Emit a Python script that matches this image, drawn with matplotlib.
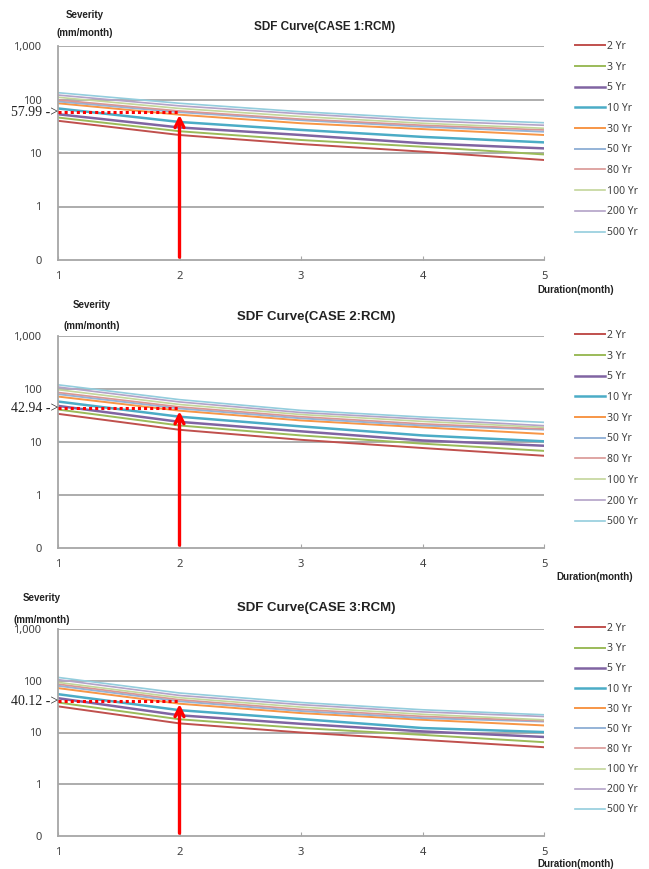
import matplotlib
matplotlib.use("Agg")
import matplotlib.pyplot as plt
from matplotlib.transforms import blended_transform_factory

plt.rcParams['font.family'] = ['Noto Sans', 'DejaVu Sans']

# durations (month)
durations = [1, 2, 3, 4, 5]
periods = ["2 Yr", "3 Yr", "5 Yr", "10 Yr", "30 Yr", "50 Yr", "80 Yr", "100 Yr", "200 Yr", "500 Yr"]
colors = ["#C0504D", "#9BBB59", "#8064A2", "#4BACC6", "#F79646",
          "#95B3D7", "#D99694", "#C3D69B", "#B3A2C7", "#93CDDD"]
widths = [1.4, 1.4, 1.8, 1.8, 1.4, 1.4, 1.2, 1.2, 1.2, 1.2]

# severity (mm/month), one row per return period
case1 = [
    [40, 21.7, 14.7, 10.6, 7.4],
    [46, 25.5, 17.5, 13.1, 9.4],
    [53, 30, 21.7, 15.2, 12.2],
    [68, 38, 27, 20, 15.8],
    [85, 52, 36, 28, 21.7],
    [92, 57.99, 41, 31, 25],
    [98, 61, 43, 33, 27],
    [110, 68, 48, 36, 29],
    [121, 76, 54, 40, 33],
    [134, 85, 59, 44.5, 36.8],
]
case2 = [
    [34, 17, 11, 7.7, 5.5],
    [41, 20.5, 13.3, 9.3, 6.8],
    [48, 24, 15.9, 10.7, 8.5],
    [58, 30, 19.7, 13.3, 10.3],
    [72, 39, 25.5, 18.9, 14.2],
    [80, 42.94, 28, 20.5, 17.1],
    [86, 46, 30, 22, 17.6],
    [97, 51, 33, 24.5, 18.9],
    [109, 57, 36, 27, 20.3],
    [120, 63, 39.5, 29.6, 23.5],
]
case3 = [
    [32, 15, 10, 7.2, 5.2],
    [38, 18, 12.2, 9, 6.5],
    [46, 21.5, 14.7, 10.5, 8.2],
    [55, 27, 18.2, 12.2, 10.2],
    [72, 36, 23.7, 17.6, 13.7],
    [80, 40.12, 26, 19, 16.3],
    [86, 43, 28, 20.5, 16.8],
    [93, 47, 31, 22.5, 17.6],
    [105, 52, 34.5, 25, 20.4],
    [116, 58, 38, 27.5, 22],
]
cases = [case1, case2, case3]
titles = ["SDF Curve(CASE 1:RCM)", "SDF Curve(CASE 2:RCM)", "SDF Curve(CASE 3:RCM)"]
marks = [57.99, 42.94, 40.12]   # value read at duration 2
ytick_vals = [0.1, 1, 10, 100, 1000]
ytick_labels = ["0", "1", "10", "100", "1,000"]

W, H = 649, 869
fig = plt.figure(figsize=(W / 100, H / 100), dpi=100)

# axes boxes in pixels: (left, top, right, bottom)
boxes = [(58, 46, 544, 260), (58, 336, 544, 548), (58, 629, 544, 836)]
title_y = [27, 317, 608]
title_x = [325, 316, 316]
title_fs = [8.5, 9.5, 9.5]
sev_pos = [(85, 15), (92, 305), (42, 598)]
unit_pos = [(85, 33), (92, 326), (42, 620)]
dur_pos = [(537, 290), (556, 577), (537, 864)]
leg_top = [41, 330, 623]
leg_space = [0.93, 0.93, 0.88]

bold_font = ["Liberation Sans", "DejaVu Sans"]
grid_c = "#A6A6A6"
for i, data in enumerate(cases):
    l, t, r, b = boxes[i]
    ax = fig.add_axes([l / W, 1 - b / H, (r - l) / W, (b - t) / H])
    ax.set_yscale("log")
    for k, row in enumerate(data):
        ax.plot(durations, row, color=colors[k], lw=widths[k], label=periods[k])
    ax.set_xlim(1, 5)
    ax.set_ylim(0.1, 1000)
    ax.set_yticks(ytick_vals)
    ax.set_yticklabels(ytick_labels)
    ax.minorticks_off()
    ax.set_xticks(durations)
    ax.set_xticklabels([str(d) for d in durations])
    for v in ytick_vals[1:]:
        ax.axhline(v, color=grid_c, lw=1.3, zorder=0)
    for s in ["top", "right"]:
        ax.spines[s].set_visible(False)
    for s in ["left", "bottom"]:
        ax.spines[s].set_color(grid_c)
        ax.spines[s].set_linewidth(1.3)
    ax.tick_params(axis="y", length=0, labelsize=8, labelcolor="#404040", pad=12)
    ax.tick_params(axis="x", direction="in", length=3, color=grid_c,
                   labelsize=8, labelcolor="#404040", pad=8)

    # read-off marker
    m = marks[i]
    ax.plot([1, 2], [m, m], color="red", lw=2.2, ls=(0, (1, 1)), zorder=5)
    ax.annotate("", xy=(2, m), xytext=(2, 0.1),
                arrowprops=dict(arrowstyle="->", color="red", lw=2.4, mutation_scale=16),
                zorder=6)
    tr = blended_transform_factory(ax.transAxes, ax.transData)
    ax.text(0.0, m, f"{m:.2f} ->", transform=tr, ha="right", va="center",
            family="Liberation Serif", fontsize=10, color="#222222")

    fig.text(title_x[i] / W, 1 - title_y[i] / H, titles[i], ha="center", va="center",
             family=bold_font, fontsize=title_fs[i], fontweight="bold", color="#222222")
    fig.text(sev_pos[i][0] / W, 1 - sev_pos[i][1] / H, "Severity", ha="center", va="center",
             family=bold_font, fontsize=7, fontweight="bold", color="#222222")
    fig.text(unit_pos[i][0] / W, 1 - unit_pos[i][1] / H, "(mm/month)", ha="center", va="center",
             family=bold_font, fontsize=7, fontweight="bold", color="#222222")
    fig.text(dur_pos[i][0] / W, 1 - dur_pos[i][1] / H, "Duration(month)", ha="left", va="center",
             family=bold_font, fontsize=7, fontweight="bold", color="#222222")

    ax.legend(loc="upper left", bbox_to_anchor=(575 / W, 1 - leg_top[i] / H),
              bbox_transform=fig.transFigure, frameon=False, fontsize=7.5,
              handlelength=2.9, handletextpad=0.15, labelspacing=leg_space[i],
              borderpad=0, borderaxespad=0, labelcolor="#404040")

fig.savefig("out.png", dpi=100)
